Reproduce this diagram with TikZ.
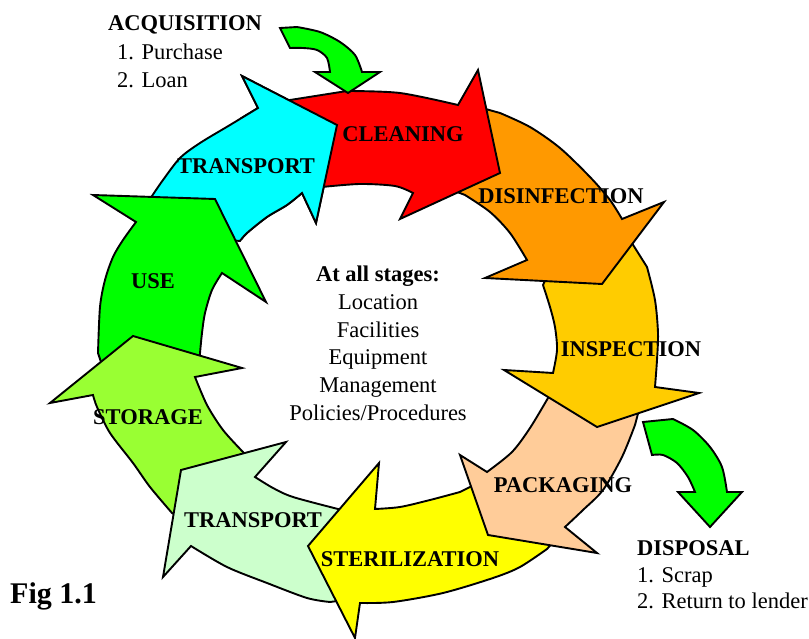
\documentclass[tikz,border=0pt]{standalone}
\usepackage{fontspec}
\setmainfont{Liberation Serif}
\definecolor{cleanred}{HTML}{FF0000}
\definecolor{disorange}{HTML}{FF9900}
\definecolor{inspgold}{HTML}{FFCC00}
\definecolor{packpeach}{HTML}{FFCC99}
\definecolor{steryellow}{HTML}{FFFF00}
\definecolor{palegreen}{HTML}{CCFFCC}
\definecolor{storegreen}{HTML}{99FF33}
\definecolor{usegreen}{HTML}{00FF00}
\definecolor{transcyan}{HTML}{00FFFF}
\def\cyanpath{(145,205) -- plot[smooth] coordinates {(152,196) (163,180) (180,158) (200,143) (230,125) (258,108)}
	-- (242,76) -- (337,125) -- (316,223)
	-- plot[smooth] coordinates {(302,193) (287,205) (267,217) (247,233) (240,241)} -- (229,240) -- cycle}
\begin{document}
\begin{tikzpicture}
	[x=1pt,y=-1pt,
	stage/.style={draw=black,line width=1.9pt},
	txt/.style={inner sep=0pt,font=\fontsize{22.5}{27.7}\selectfont},
	stagename/.style={txt,font=\fontsize{22.5}{27.7}\selectfont\bfseries,anchor=base}]
	\useasboundingbox (0,0) rectangle (809,639);
	\filldraw[stage,fill=transcyan] \cyanpath;
	\filldraw[stage,fill=usegreen] (102,365)
		-- plot[smooth] coordinates {(98,353) (100,307) (105,280) (113,257) (123,240) (136,222)}
		-- (93,195) -- (215,199) -- (266,302)
		-- plot[smooth] coordinates {(222,273) (212,290) (205,313) (202,333) (200,353)}
		-- (200,362) -- cycle;
	\filldraw[stage,fill=storegreen] (250,461)
		-- plot[smooth] coordinates {(243,452) (223,430) (207,405) (195,377)}
		-- (242,368) -- (133,336) -- (50,403)
		-- plot[smooth] coordinates {(93,395) (97,407) (110,433) (133,463) (150,487) (172,513)}
		-- (180,518) -- cycle;
	\filldraw[stage,fill=palegreen] (350,510)
		-- plot[smooth] coordinates {(338,509) (293,497) (273,488) (255,477)}
		-- (286,442) -- (181,470) -- (163,577)
		-- plot[smooth] coordinates {(191,546) (227,567) (267,583) (307,598) (330,602)}
		-- (345,600) -- cycle;
	\filldraw[stage,fill=steryellow] (476,484)
		-- plot[smooth] coordinates {(460,492) (430,500) (400,507) (375,509)}
		-- (379,463) -- (308,546) -- (355,638)
		-- plot[smooth] coordinates {(360,603) (393,602) (443,593) (493,578) (520,567) (547,549)}
		-- (555,540) -- cycle;
	\filldraw[stage,fill=packpeach] (640,406)
		-- plot[smooth] coordinates {(635,425) (622,457) (603,490) (583,510) (565,527)}
		-- (597,553) -- (488,535) -- (460,455)
		-- plot[smooth] coordinates {(487,472) (512,452) (530,428) (548,398)}
		-- (550,390) -- cycle;
	\filldraw[stage,fill=inspgold] (630,240)
		-- plot[smooth] coordinates {(647,267) (655,300) (658,333) (657,360) (655,387)}
		-- (699,393) -- (597,427) -- (504,370)
		-- plot[smooth] coordinates {(553,373) (557,350) (555,327) (550,307) (543,285)}
		-- (548,274) -- cycle;
	\filldraw[stage,fill=disorange] (482,108)
		-- plot[smooth] coordinates {(500,113) (530,127) (560,148) (590,177) (610,200) (622,219)}
		-- (664,202) -- (602,284) -- (485,278)
		-- plot[smooth] coordinates {(527,260) (510,233) (490,212) (465,195)}
		-- (452,190) -- cycle;
	\filldraw[stage,fill=cleanred] (290,100)
		-- plot[smooth] coordinates {(347,91) (400,93) (458,105)}
		-- (478,70) -- (500,173) -- (400,219)
		-- plot[smooth] coordinates {(413,193) (395,186) (360,184) (322,187)}
		-- cycle;
	\begin{scope}
		\clip (240,0) rectangle (420,240);
		\filldraw[stage,fill=transcyan] \cyanpath;
	\end{scope}
	\filldraw[stage,fill=usegreen] (280,28)
		-- plot[smooth] coordinates {(297,27) (320,32) (340,42) (355,55) (362,72)}
		-- (380,72) -- (348,93) -- (315,72)
		-- plot[smooth] coordinates {(330,72) (327,58) (317,50) (303,48) (290,48)}
		-- cycle;
	\filldraw[stage,fill=usegreen] (643,422)
		-- plot[smooth] coordinates {(673,419) (693,430) (710,447) (722,467) (727,492)}
		-- (742,492) -- (710,527) -- (678,492)
		-- plot[smooth] coordinates {(695,492) (688,477) (677,463) (663,455) (652,455)}
		-- cycle;
	\node[stagename] (cleaning) at (403,142) {CLEANING};
	\node[stagename] (disinfection) at (561,204) {DISINFECTION};
	\node[stagename] (inspection) at (631,356) {INSPECTION};
	\node[stagename] (packaging) at (563,492) {PACKAGING};
	\node[stagename] (sterilization) at (410,566) {STERILIZATION};
	\node[stagename] (transportb) at (253,527) {TRANSPORT};
	\node[stagename] (storage) at (148,424) {STORAGE};
	\node[stagename] (use) at (153,288) {USE};
	\node[stagename] (transporta) at (246,174) {TRANSPORT};
	\node[txt,align=center,anchor=north] (stages) at (378,266)
		{\textbf{At all stages:}\\Location\\Facilities\\Equipment\\Management\\Policies/Procedures};
	\node[stagename,anchor=base west] (acquisition) at (108,31) {ACQUISITION};
	\node[txt,anchor=base west] (purchase) at (117,60) {1. Purchase};
	\node[txt,anchor=base west] (loan) at (117,88) {2. Loan};
	\node[stagename,anchor=base west] (disposal) at (637,555) {DISPOSAL};
	\node[txt,anchor=base west] (scrap) at (637,582) {1. Scrap};
	\node[txt,anchor=base west] (lender) at (637,608) {2. Return to lender};
	\node[txt,font=\fontsize{30}{36}\selectfont\bfseries,anchor=base west] (fig) at (10,603) {Fig 1.1};
\end{tikzpicture}
\end{document}
